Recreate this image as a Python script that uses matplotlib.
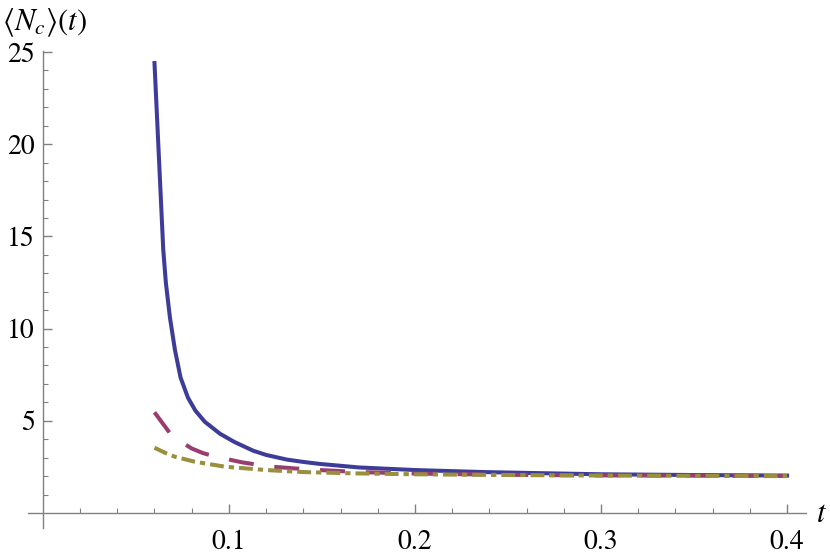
import matplotlib
matplotlib.use("Agg")
import matplotlib.pyplot as plt
from matplotlib.ticker import FixedLocator

plt.rcParams["mathtext.fontset"] = "stix"
plt.rcParams["font.family"] = ["STIXGeneral", "DejaVu Serif"]
plt.rcParams["lines.scale_dashes"] = False

# values
t_solid = [0.06, 0.0647, 0.0661, 0.0683, 0.071, 0.074, 0.078, 0.082, 0.087, 0.0952, 0.103, 0.113, 0.12,
           0.131, 0.14, 0.149, 0.17, 0.2, 0.237, 0.273, 0.3, 0.35, 0.4]
nc_solid = [24.4, 14.3, 12.5, 10.6, 8.84, 7.35, 6.25, 5.55, 4.95, 4.3, 3.85, 3.38, 3.15,
            2.9, 2.77, 2.66, 2.47, 2.33, 2.22, 2.15, 2.1, 2.06, 2.03]

t_dashed = [0.06, 0.068, 0.074, 0.08, 0.086, 0.093, 0.107, 0.121, 0.135, 0.149, 0.17, 0.2, 0.25, 0.3, 0.4]
nc_dashed = [5.46, 4.37, 3.88, 3.5, 3.25, 3.05, 2.75, 2.53, 2.42, 2.33, 2.22, 2.14, 2.07, 2.04, 2.01]

t_dotdash = [0.06, 0.066, 0.071, 0.0817, 0.098, 0.12, 0.14, 0.167, 0.2, 0.25, 0.3, 0.4]
nc_dotdash = [3.54, 3.25, 3.05, 2.78, 2.51, 2.33, 2.22, 2.15, 2.1, 2.06, 2.03, 2.0]

x_major = [0.1, 0.2, 0.3, 0.4]
y_major = [5, 10, 15, 20, 25]

fig = plt.figure(figsize=(8.3, 5.57), dpi=100)
ax = fig.add_axes([0.0337, 0.0525, 0.937, 0.8558])

lw = 2.9
ax.plot(t_solid, nc_solid, color="#3D3D99", lw=lw, solid_joinstyle="round")
ax.plot(t_dashed, nc_dashed, color="#993D71", lw=lw, dashes=(18, 15))
ax.plot(t_dotdash, nc_dotdash, color="#998F3D", lw=lw, dashes=(10, 3.6, 3.8, 3.6))

ax.set_xlim(-0.008, 0.41)
ax.set_ylim(-0.8, 25.05)

for s in ["top", "right"]:
    ax.spines[s].set_visible(False)
ax.spines["left"].set_position(("data", 0))
ax.spines["bottom"].set_position(("data", 0))
for s in ["left", "bottom"]:
    ax.spines[s].set_color("#808080")
    ax.spines[s].set_linewidth(1.0)

ax.xaxis.set_major_locator(FixedLocator(x_major))
ax.xaxis.set_minor_locator(FixedLocator([i * 0.02 for i in range(1, 21) if i % 5 != 0]))
ax.yaxis.set_major_locator(FixedLocator(y_major))
ax.yaxis.set_minor_locator(FixedLocator([i for i in range(1, 25) if i % 5 != 0]))
ax.set_xticklabels(["0.1", "0.2", "0.3", "0.4"])
ax.set_yticklabels(["5", "10", "15", "20", "25"])

ax.tick_params(axis="both", which="both", direction="in", color="#808080", labelsize=20)
ax.tick_params(axis="both", which="major", length=6.5, width=1.0)
ax.tick_params(axis="both", which="minor", length=3.6, width=0.8)
ax.tick_params(axis="x", which="major", pad=12)
ax.tick_params(axis="y", which="major", pad=6)

fig.text(0.003, 0.946, r"$\langle N_c\rangle(t)$", fontsize=22, ha="left", va="baseline")
fig.text(0.99, 0.063, r"$t$", fontsize=22, ha="center", va="baseline")

fig.savefig("out.png", dpi=100)
